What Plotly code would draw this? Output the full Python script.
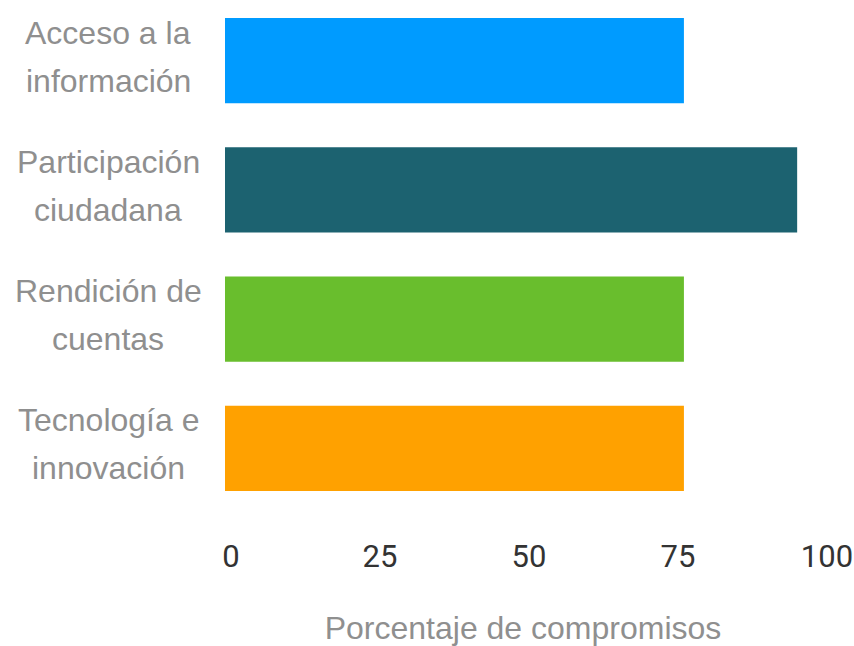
import plotly.graph_objects as go

line1 = ["Acceso a la", "Participación", "Rendición de", "Tecnología e"]
line2 = ["información", "ciudadana", "cuentas", "innovación"]
categories = [a + " " + b for a, b in zip(line1, line2)]
values = [77, 96, 77, 77]
colors = ["#009BFF", "#1C6270", "#69BE2D", "#FFA100"]
tick_vals = [0, 25, 50, 75, 100]
x_title = "Porcentaje de compromisos"

fig = go.Figure()
fig.add_trace(go.Bar(
    y=categories, x=values, orientation="h",
    marker=dict(color=colors, line=dict(width=0)),
    hoverinfo="x+y",
))

annotations = []
for cat, a, b in zip(categories, line1, line2):
    for txt, ys in ((a, 28), (b, -20)):
        annotations.append(dict(
            xref="paper", yref="y", x=0, y=cat, xshift=-117, yshift=ys,
            text=txt, showarrow=False, xanchor="center", yanchor="middle",
            font=dict(family="Liberation Sans, Arial", size=32, color="#8f8f8f"),
        ))

fig.update_layout(
    width=854, height=646,
    margin=dict(l=225, r=33, t=0, b=133, autoexpand=False),
    paper_bgcolor="white", plot_bgcolor="white",
    bargap=0.342,
    showlegend=False,
    annotations=annotations,
    xaxis=dict(
        range=[0, 100], tickvals=tick_vals, showgrid=False, zeroline=False,
        showline=False, ticks="", ticklabelstandoff=22, ticklabelshift=6,
        tickfont=dict(family="Roboto", size=31, color="#333333"),
        title=dict(text=x_title, standoff=43,
                   font=dict(family="Liberation Sans, Arial", size=32, color="#8f8f8f")),
        automargin=False, fixedrange=True,
    ),
    yaxis=dict(
        categoryorder="array", categoryarray=categories,
        range=[3.5, -0.469], showticklabels=False, showgrid=False,
        zeroline=False, showline=False, ticks="", automargin=False, fixedrange=True,
    ),
)

fig.write_html("out.html", config={"displayModeBar": False},
               post_script="document.body.style.margin='0';document.body.style.overflow='hidden';")
